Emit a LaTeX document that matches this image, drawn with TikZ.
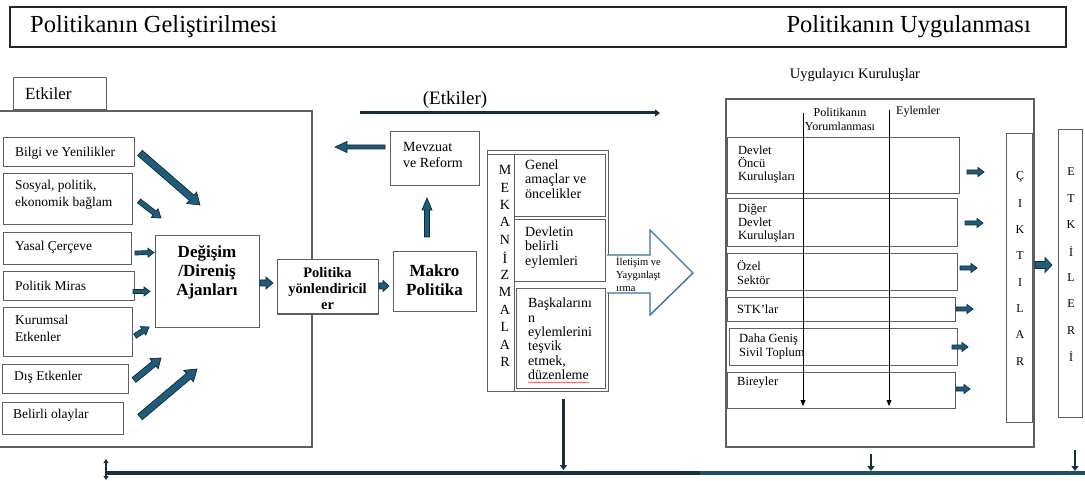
\documentclass[tikz,border=0pt]{standalone}
\usepackage{fontspec}
\setmainfont{Liberation Serif}
\usetikzlibrary{calc,arrows.meta,decorations.pathmorphing}
\definecolor{afill}{RGB}{30,92,122}
\definecolor{aline}{RGB}{16,42,58}
\definecolor{dline}{RGB}{22,48,64}
\definecolor{bline2}{RGB}{31,78,104}
\definecolor{bline}{RGB}{95,95,95}
\definecolor{hollow}{RGB}{60,115,150}
\newcommand{\fsz}[2]{\fontsize{#1}{#2}\selectfont}
% block arrow: #1 start, #2 end, #3 shaft half width, #4 head half width, #5 head length
\newcommand{\blkarrow}[5]{%
  \coordinate (ba-s) at #1; \coordinate (ba-e) at #2;
  \coordinate (ba-h) at ($(ba-e)!#5!(ba-s)$);
  \filldraw[barrow] ($(ba-s)!#3!90:(ba-e)$) -- ($(ba-h)!#3!-90:(ba-s)$) -- ($(ba-h)!#4!-90:(ba-s)$) -- (ba-e) -- ($(ba-h)!#4!90:(ba-s)$) -- ($(ba-h)!#3!90:(ba-s)$) -- ($(ba-s)!#3!-90:(ba-e)$) -- cycle;}
% box: name, x1, y1, x2, y2
\newcommand{\bx}[6][]{%
  \node[box,#1,minimum width={#5pt-#3pt},minimum height={#6pt-#4pt}] (#2) at (#3,#4) {};}
\begin{document}
\begin{tikzpicture}[x=1pt,y=-1pt,
  box/.style={draw=bline, line width=1pt, fill=white, inner sep=0pt, outer sep=0pt, anchor=north west},
  txt/.style={inner sep=0pt, align=left, anchor=west, font=\fsz{13.5}{17}},
  barrow/.style={fill=afill, draw=aline, line width=0.7pt, line join=miter},
  darr/.style={draw=dline, line width=3pt, -{Triangle[length=5pt,width=7pt]}},
  varr/.style={draw=black, line width=0.9pt, -{Triangle[length=6pt,width=5pt]}},
]
\useasboundingbox (0,0) rectangle (1085,481);

% header
\bx[draw=black!85,line width=1.8pt]{hdr}{10}{7}{1066}{47}
\node[anchor=west,inner sep=0,font=\fsz{24.5}{27}] (h1) at (30,27) {Politikanın Geliştirilmesi};
\node[anchor=east,inner sep=0,font=\fsz{24.5}{27}] (h2) at (1031,27) {Politikanın Uygulanması};

% left influence area
\bx[line width=1.3pt]{infl}{-3}{111}{312}{447}
\bx{etab}{13}{78}{106}{110}
\node[txt,font=\fsz{17}{20}] (etabt) at (25,94) {Etkiler};

\bx{b1}{3}{138}{134}{167}
\bx{b2}{3}{174}{132}{225}
\bx{b3}{3}{233}{131}{265}
\bx{b4}{3}{272}{134}{301}
\bx{b5}{3}{308}{132}{356}
\bx{b6}{2}{364}{128}{393}
\bx{b7}{2}{402}{123}{434}
\node[txt] (t1) at (15,153) {Bilgi ve Yenilikler};
\node[txt] (t2) at (15,195) {Sosyal, politik,\\ekonomik bağlam};
\node[txt] (t3) at (15,247) {Yasal Çerçeve};
\node[txt] (t4) at (15,286) {Politik Miras};
\node[txt] (t5) at (15,328.5) {Kurumsal\\Etkenler};
\node[txt] (t6) at (14,377) {Dış Etkenler};
\node[txt] (t7) at (13,415) {Belirli olaylar};

\bx{deg}{155}{236}{259}{327}
\node[inner sep=0,align=center,font=\fsz{17}{19}\bfseries] (degt) at (207,272) {Değişim\\/Direniş\\Ajanları};
\bx{pol}{277}{260}{378}{314}
\node[inner sep=0,align=center,font=\fsz{14.5}{16}\bfseries] (polt) at (327.5,289) {Politika\\yönlendiricil\\er};
\bx{mak}{393}{252}{476}{312}
\node[inner sep=0,align=center,font=\fsz{17}{19}\bfseries] (makt) at (434.5,280) {Makro\\Politika};
\bx{mev}{390}{132}{479}{186}
\node[txt,font=\fsz{14}{15.5}] (mevt) at (403,155) {Mevzuat\\ve Reform};

% (Etkiler) line
\node[inner sep=0,font=\fsz{19}{21}] (etk2) at (455,100) {(Etkiler)};
\coordinate (el1) at (360,113); \coordinate (el2) at (660,113);
\draw[darr] (el1) -- (el2);

% left block arrows
\blkarrow{(140,153)}{(200,205)}{3.5pt}{7.5pt}{11pt}
\blkarrow{(139,201)}{(161,218)}{2.5pt}{5.5pt}{8pt}
\blkarrow{($(b3.east)+(4,4)$)}{($(deg.west)+(-1,-29)$)}{2pt}{4.5pt}{6pt}
\blkarrow{($(b4.east)+(-1,5)$)}{($(deg.west)+(-5,10)$)}{2pt}{4.5pt}{6pt}
\blkarrow{(135,336)}{(149,327)}{2.5pt}{5pt}{7pt}
\blkarrow{(134,380)}{(161,358)}{3pt}{6.5pt}{9pt}
\blkarrow{(140,417)}{(197,369)}{3.5pt}{7.5pt}{11pt}
\blkarrow{($(deg.east)+(1,1.5)$)}{($(deg.east)+(14,1.5)$)}{3pt}{6pt}{7pt}
\blkarrow{($(pol.east)+(1,-1)$)}{($(pol.east)+(11,-1)$)}{3pt}{5.5pt}{6pt}
\blkarrow{($(mak.north)+(-7.5,-15)$)}{($(mev.south)+(-7.5,12)$)}{2.5pt}{5pt}{12pt}
\blkarrow{($(mev.west)+(-5,-12)$)}{($(mev.west)+(-55,-12)$)}{2pt}{5.5pt}{12pt}

% mechanisms
\bx{mekf}{487}{151}{608}{391}
\bx{mekc}{487}{155}{514}{391}
\bx{gen}{514}{155}{605}{217}
\bx{dev}{514}{220}{605}{282}
\bx{bas}{516}{289}{605}{388}
\foreach \l [count=\i from 0] in {M,E,K,A,N,İ,Z,M,A,L,A,R}
  \node[inner sep=0,font=\fsz{14}{16}] (mek-\i) at (505,170+17.45*\i) {\l};
\node[txt,font=\fsz{14}{14.5}] (gent) at (525,179) {Genel\\amaçlar ve\\öncelikler};
\node[txt,font=\fsz{14}{14.5}] (devt) at (525,247.5) {Devletin\\belirli\\eylemleri};
\node[txt,font=\fsz{14}{14.4}] (bast) at (528,339) {Başkalarını\\n\\eylemlerini\\teşvik\\etmek,\\düzenleme};
\coordinate (sq1) at (528,382.5); \coordinate (sq2) at (589,382.5);
\draw[red!80, line width=0.5pt, decorate, decoration={snake,amplitude=0.6pt,segment length=2.5pt}] (sq1) -- (sq2);

% hollow arrow
\draw[hollow, line width=1.4pt, fill=white, line join=miter] (607,255) -- (650,255) -- (650,230) -- (693,273) -- (650,315) -- (650,293) -- (607,293);
\node[txt,font=\fsz{10.5}{13}] (ilt) at (616,274) {İletişim ve\\Yaygınlaşt\\ırma};

% implementation area
\node[inner sep=0,font=\fsz{14.5}{16}] (uyg) at (855,75) {Uygulayıcı Kuruluşlar};
\bx[line width=1.3pt]{impl}{726}{99}{1034}{447}
\node[inner sep=0,align=center,font=\fsz{12}{14}] (colh1) at (840,119) {Politikanın\\Yorumlanması};
\node[txt,font=\fsz{12}{14}] (colh2) at (896,112) {Eylemler};

\bx{r1}{727}{138}{959}{194}
\bx{r2}{727}{199}{957}{247}
\bx{r3}{727}{254}{957}{291}
\bx{r4}{727}{298}{955}{321}
\bx{r5}{729}{328}{957}{365}
\bx{r6}{727}{372}{955}{408}
\node[txt,font=\fsz{12.5}{12.8}] (r1t) at (738,164.5) {Devlet\\Öncü\\Kuruluşları};
\node[txt,font=\fsz{12.5}{13.5}] (r2t) at (738,223.5) {Diğer\\Devlet\\Kuruluşları};
\node[txt,font=\fsz{12.5}{14}] (r3t) at (737,272) {Özel\\Sektör};
\node[txt,font=\fsz{12.5}{14}] (r4t) at (737,309) {STK’lar};
\node[txt,font=\fsz{12.5}{13.5}] (r5t) at (739,346.5) {Daha Geniş\\Sivil Toplum};
\node[txt,font=\fsz{12.5}{14}] (r6t) at (737,383) {Bireyler};

\coordinate (v1a) at (803,113); \coordinate (v1b) at (803,406);
\coordinate (v2a) at (889,110); \coordinate (v2b) at (889,406);
\draw[varr] (v1a) -- (v1b);
\draw[varr] (v2a) -- (v2b);

\blkarrow{($(r1.east)+(8,6)$)}{($(r1.east)+(25,6)$)}{2pt}{4.5pt}{6pt}
\blkarrow{($(r2.east)+(8,0)$)}{($(r2.east)+(26,0)$)}{2pt}{4.5pt}{6pt}
\blkarrow{($(r3.east)+(3,-4.5)$)}{($(r3.east)+(20,-4.5)$)}{2pt}{4.5pt}{6pt}
\blkarrow{($(r4.east)+(1,-0.5)$)}{($(r4.east)+(18,-0.5)$)}{2pt}{4.5pt}{6pt}
\blkarrow{($(r5.east)+(-5,0.5)$)}{($(r5.east)+(11,0.5)$)}{2pt}{4.5pt}{6pt}
\blkarrow{($(r6.east)+(1,-1)$)}{($(r6.east)+(15,-1)$)}{2pt}{4.5pt}{6pt}

\bx{cik}{1006}{134}{1032}{422}
\foreach \l [count=\i from 0] in {Ç,I,K,T,I,L,A,R}
  \node[inner sep=0,font=\fsz{12}{14}] (cik-\i) at (1020,177+26.3*\i) {\l};
\bx{etk}{1058}{130}{1082}{417}
\foreach \l [count=\i from 0] in {E,T,K,İ,L,E,R,İ}
  \node[inner sep=0,font=\fsz{12}{14}] (etk-\i) at (1071,172+26.4*\i) {\l};
\blkarrow{($(cik.east)+(3,-13)$)}{($(etk.west)+(-6,-8.5)$)}{3.5pt}{7.5pt}{7pt}

% bottom line
\coordinate (bl0) at (106,473); \coordinate (blm) at (700,473); \coordinate (bl1) at (1085,473);
\draw[dline, line width=4pt] (bl0) -- (blm);
\draw[bline2, line width=4pt] (blm) -- (bl1);
\coordinate (dl1) at (106,459); \coordinate (dl2) at (106,480);
\draw[dline, line width=2pt, {Triangle[length=4pt,width=5pt]}-{Triangle[length=4pt,width=5pt]}] (dl1) -- (dl2);
\draw[darr, line width=3.5pt] ($(mekf.south)+(16,8)$) -- ($(mekf.south)+(16,79)$);
\coordinate (a1) at (871,454); \coordinate (a1e) at (871,471);
\coordinate (a2) at (1075,450); \coordinate (a2e) at (1075,471);
\draw[darr, line width=2.5pt] (a1) -- (a1e);
\draw[darr, line width=2.5pt] (a2) -- (a2e);
\end{tikzpicture}
\end{document}
